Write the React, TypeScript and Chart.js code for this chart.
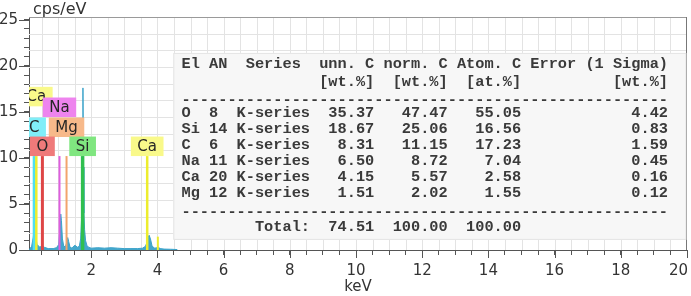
import React, { useEffect, useRef } from 'react';
import { Chart, registerables } from 'chart.js';

Chart.register(...registerables);

// ---------- Spectrum data ----------
const energyKeV = [0.12, 0.2, 0.25, 0.28, 0.31, 0.36, 0.45, 0.52, 0.58, 0.7, 0.85, 0.95, 1.02, 1.05, 1.08, 1.1, 1.13, 1.17, 1.22, 1.26, 1.29, 1.32, 1.36, 1.42, 1.48, 1.52, 1.58, 1.64, 1.68, 1.71, 1.73, 1.75, 1.765, 1.78, 1.8, 1.83, 1.87, 1.92, 2.0, 2.2, 2.4, 2.6, 2.8, 3.0, 3.2, 3.4, 3.55, 3.64, 3.69, 3.72, 3.75, 3.79, 3.84, 3.92, 3.98, 4.03, 4.08, 4.2, 4.4, 4.6];
const countsCpsEV = [0.0, 0.4, 1.4, 2.6, 2.0, 0.6, 0.3, 0.5, 0.3, 0.15, 0.15, 0.25, 0.6, 2.2, 3.9, 3.2, 1.2, 0.4, 0.35, 0.8, 1.35, 0.9, 0.3, 0.2, 0.45, 0.5, 0.3, 0.4, 1.2, 3.5, 8.5, 17.6, 9.0, 4.0, 2.2, 1.0, 0.5, 0.3, 0.2, 0.25, 0.2, 0.25, 0.2, 0.15, 0.15, 0.15, 0.2, 0.4, 0.9, 1.4, 1.6, 1.2, 0.4, 0.2, 0.25, 0.3, 0.15, 0.1, 0.08, 0.05];

// ---------- Element markers ----------
const markerNames = ['Ca', 'Na', 'C', 'Mg', 'O', 'Si', 'Ca'];
const markerEnergies = [0.341, 1.041, 0.277, 1.254, 0.525, 1.74, 3.691];
const markerLabelLevels = [15.6, 14.44, 12.27, 12.27, 10.2, 10.2, 10.2];
const markerLineTop = 10.2;
const extraLineEnergies = [4.013];
const extraLineHeights = [1.45];

// ---------- Axes ----------
const xMin = 0.12;
const xMax = 20;
const yMin = 0;
const yMax = 25.3;
const xTickLabels = [2, 4, 6, 8, 10, 12, 14, 16, 18, 20];
const yTickLabels = [0, 5, 10, 15, 20, 25];

// ---------- Quantification table ----------
const tableElements = ['O', 'Si', 'C', 'Na', 'Ca', 'Mg'];
const tableAtomicNumbers = [8, 14, 6, 11, 20, 12];
const tableSeries = ['K-series', 'K-series', 'K-series', 'K-series', 'K-series', 'K-series'];
const unnC = [35.37, 18.67, 8.31, 6.5, 4.15, 1.51];
const normC = [47.47, 25.06, 11.15, 8.72, 5.57, 2.02];
const atomC = [55.05, 16.56, 17.23, 7.04, 2.58, 1.55];
const errorSigma = [4.42, 0.83, 1.59, 0.45, 0.16, 0.12];
const totals = [74.51, 100.0, 100.0];

const lineColors: Record<string, string> = { Ca: '#eded2e', Na: '#de5ede', C: '#4fdff0', Mg: '#f2a46c', O: '#de4646', Si: '#2fbf4f' };
const boxColors: Record<string, string> = { Ca: '#f9f98a', Na: '#ee84ee', C: '#80eef8', Mg: '#f7b98a', O: '#ef7a7a', Si: '#80e680' };
const lineWidths: Record<string, number> = { Ca: 2.5, Na: 2, C: 3, Mg: 2, O: 3, Si: 3.5 };

const SANS = '"DejaVu Sans", Verdana, sans-serif';
const MONO = '"Liberation Mono", "Courier New", monospace';

function buildTableLines(): string[] {
  const lines: string[] = [];
  lines.push('El AN  Series  unn. C norm. C Atom. C Error (1 Sigma)');
  lines.push(' '.repeat(15) + '[wt.%]  [wt.%]  [at.%]          [wt.%]');
  lines.push('-'.repeat(53));
  for (let i = 0; i < tableElements.length; i++) {
    lines.push(
      tableElements[i].padEnd(2) + ' ' + String(tableAtomicNumbers[i]).padEnd(2) + ' ' + tableSeries[i] +
      unnC[i].toFixed(2).padStart(7) + normC[i].toFixed(2).padStart(8) + atomC[i].toFixed(2).padStart(8) +
      errorSigma[i].toFixed(2).padStart(16)
    );
  }
  lines.push('-'.repeat(53));
  lines.push(' '.repeat(8) + 'Total:' + totals[0].toFixed(2).padStart(7) + totals[1].toFixed(2).padStart(8) + totals[2].toFixed(2).padStart(8));
  return lines;
}

const edsPlugin = {
  id: 'edsDecor',
  beforeDatasetsDraw(chart: any) {
    const { ctx, chartArea, scales } = chart;
    const { left, right, top, bottom } = chartArea;
    const x = scales.x, y = scales.y;
    ctx.save();
    ctx.strokeStyle = '#e3e3e3';
    ctx.lineWidth = 1;
    ctx.beginPath();
    for (let e = 0.5; e < xMax; e += 0.5) {
      const px = Math.round(x.getPixelForValue(e)) + 0.5;
      if (px <= left + 1 || px >= right - 1) continue;
      ctx.moveTo(px, top); ctx.lineTo(px, bottom);
    }
    const step = (yMax - yMin) / 14;
    for (let k = 1; k < 14; k++) {
      const py = Math.round(y.getPixelForValue(yMin + k * step)) + 0.5;
      ctx.moveTo(left, py); ctx.lineTo(right, py);
    }
    ctx.stroke();
    ctx.restore();
  },
  afterDatasetsDraw(chart: any) {
    const { ctx, chartArea, scales } = chart;
    const { left, right, top, bottom } = chartArea;
    const x = scales.x, y = scales.y;
    ctx.save();
    ctx.beginPath();
    ctx.rect(left, top, right - left, bottom - top);
    ctx.clip();
    // marker lines
    const order = markerEnergies.map((e, i) => i).sort((a, b) => markerEnergies[a] - markerEnergies[b]);
    for (const i of order) {
      const name = markerNames[i];
      const px = x.getPixelForValue(markerEnergies[i]);
      ctx.strokeStyle = lineColors[name];
      ctx.lineWidth = lineWidths[name];
      ctx.beginPath();
      ctx.moveTo(px, y.getPixelForValue(0));
      ctx.lineTo(px, y.getPixelForValue(markerLineTop));
      ctx.stroke();
    }
    for (let i = 0; i < extraLineEnergies.length; i++) {
      const px = x.getPixelForValue(extraLineEnergies[i]);
      ctx.strokeStyle = lineColors.Ca;
      ctx.lineWidth = 2;
      ctx.beginPath();
      ctx.moveTo(px, y.getPixelForValue(0));
      ctx.lineTo(px, y.getPixelForValue(extraLineHeights[i]));
      ctx.stroke();
    }
    // label boxes
    ctx.font = `15px ${SANS}`;
    ctx.textAlign = 'center';
    ctx.textBaseline = 'middle';
    for (let i = 0; i < markerNames.length; i++) {
      const name = markerNames[i];
      const cx = x.getPixelForValue(markerEnergies[i]);
      const by = y.getPixelForValue(markerLabelLevels[i]);
      const w = ctx.measureText(name).width + 13;
      const h = 19.5;
      ctx.fillStyle = boxColors[name];
      ctx.fillRect(cx - w / 2, by - h, w, h);
      ctx.fillStyle = '#262626';
      ctx.fillText(name, cx, by - h / 2 + 1);
    }
    ctx.restore();
  },
  afterDraw(chart: any) {
    const { ctx, chartArea, scales, width } = chart;
    const { left, right, top, bottom } = chartArea;
    const x = scales.x, y = scales.y;
    ctx.save();
    // frame top / right
    ctx.strokeStyle = '#9a9a9a';
    ctx.lineWidth = 1;
    ctx.beginPath();
    ctx.moveTo(left, top + 0.5); ctx.lineTo(right, top + 0.5);
    ctx.stroke();
    ctx.strokeStyle = '#777';
    ctx.beginPath();
    ctx.moveTo(right - 0.5, top); ctx.lineTo(right - 0.5, bottom);
    ctx.stroke();
    // major ticks
    ctx.strokeStyle = '#555';
    ctx.beginPath();
    for (const v of yTickLabels) {
      const py = Math.round(y.getPixelForValue(v)) + 0.5;
      ctx.moveTo(left - 10, py); ctx.lineTo(left, py);
    }
    for (const v of xTickLabels) {
      const px = Math.round(x.getPixelForValue(v)) + 0.5;
      ctx.moveTo(px, bottom); ctx.lineTo(px, bottom + 8);
    }
    ctx.stroke();
    // x labels
    ctx.fillStyle = '#333';
    ctx.font = `15px ${SANS}`;
    ctx.textAlign = 'center';
    ctx.textBaseline = 'middle';
    for (const v of xTickLabels) {
      const label = String(v);
      const tw = ctx.measureText(label).width;
      let px = x.getPixelForValue(v);
      px = Math.min(px, width - 3 - tw / 2);
      ctx.fillText(label, px, 271);
    }
    // y unit
    ctx.textAlign = 'left';
    ctx.font = `16px ${SANS}`;
    ctx.fillText('cps/eV', 33, 10);
    // table
    const tx0 = x.getPixelForValue(4.48);
    const ty0 = y.getPixelForValue(21.4);
    const ty1 = y.getPixelForValue(1.1);
    ctx.fillStyle = '#f7f7f7';
    ctx.fillRect(tx0, ty0, right - 1 - tx0, ty1 - ty0);
    ctx.strokeStyle = '#e4e4e4';
    ctx.strokeRect(tx0 + 0.5, ty0 + 0.5, right - 1.5 - tx0, ty1 - ty0 - 1);
    const lines = buildTableLines();
    ctx.fillStyle = '#3a3a3a';
    ctx.font = `bold 15.3px ${MONO}`;
    ctx.textAlign = 'left';
    ctx.textBaseline = 'middle';
    const rowY = [64, 81.7, 100, 112.7, 128.8, 144.9, 161, 177.1, 193.2, 211.7, 226.7];
    lines.forEach((ln, i) => ctx.fillText(ln, 181.5, rowY[i]));
    ctx.restore();
  },
};

export default function App() {
  const canvasRef = useRef<HTMLCanvasElement>(null);
  useEffect(() => {
    const canvas = canvasRef.current;
    if (!canvas) return;
    const chart = new Chart(canvas, {
      type: 'line',
      data: {
        datasets: [
          {
            data: energyKeV.map((e, i) => ({ x: e, y: countsCpsEV[i] })),
            borderColor: '#3aa2c9',
            backgroundColor: 'rgba(52,160,200,0.92)',
            borderWidth: 1,
            pointRadius: 0,
            fill: 'origin',
            tension: 0,
          },
        ],
      },
      options: {
        responsive: false,
        animation: false,
        devicePixelRatio: 1,
        layout: { padding: { top: 17, right: 4, left: 0, bottom: 0 } },
        plugins: { legend: { display: false }, tooltip: { enabled: false } },
        scales: {
          x: {
            type: 'linear',
            min: xMin,
            max: xMax,
            afterBuildTicks: (s: any) => {
              const t = [];
              for (let v = 0.5; v <= xMax + 1e-9; v += 0.5) t.push({ value: v });
              s.ticks = t;
            },
            afterFit: (s: any) => { s.height = 46; s.paddingLeft = 0; s.paddingRight = 0; },
            ticks: { display: false },
            grid: { drawOnChartArea: false, tickLength: 5, tickColor: '#555' },
            border: { color: '#555' },
            title: { display: true, text: 'keV', color: '#333', font: { family: SANS, size: 15 }, padding: { top: 0, bottom: 0 } },
          },
          y: {
            min: yMin,
            max: yMax,
            afterBuildTicks: (s: any) => {
              const t = [];
              for (let v = 0; v <= 25; v += 1) t.push({ value: v });
              s.ticks = t;
            },
            afterFit: (s: any) => { s.width = 29; },
            ticks: {
              autoSkip: false,
              padding: 6,
              color: '#333',
              font: { family: SANS, size: 15 },
              callback: (v: any) => (yTickLabels.includes(Number(v)) ? String(v) : ''),
            },
            grid: { drawOnChartArea: false, tickLength: 5, tickColor: '#555' },
            border: { color: '#555' },
          },
        },
      },
      plugins: [edsPlugin],
    });
    return () => chart.destroy();
  }, []);
  return (
    <div style={{ position: 'absolute', left: 0, top: 0, width: 691, height: 296, background: '#fff' }}>
      <canvas ref={canvasRef} width={691} height={296} style={{ display: 'block' }} />
    </div>
  );
}
